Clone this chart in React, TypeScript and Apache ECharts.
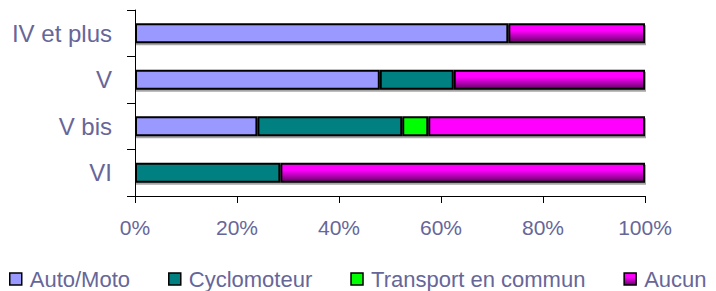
import React, { useEffect, useRef } from "react";
import * as echarts from "echarts";

const categories = ["IV et plus", "V", "V bis", "VI"];
const seriesNames = ["Auto/Moto", "Cyclomoteur", "Transport en commun", "Aucun"];
const autoMoto = [73.2, 48.0, 24.0, 0];
const cyclomoteur = [0, 14.5, 28.4, 28.5];
const transport = [0, 0, 5.1, 0];
const aucun = [26.8, 37.5, 42.5, 71.5];
const xTicks = [0, 20, 40, 60, 80, 100];

const TEXT = "#666699";
const FONT = "Liberation Sans, Arial, sans-serif";

const aucunGradient = new echarts.graphic.LinearGradient(0, 0, 0, 1, [
  { offset: 0, color: "#FF00FF" },
  { offset: 0.35, color: "#FF00FF" },
  { offset: 1, color: "#660066" },
]);

export default function App() {
  const ref = useRef<HTMLDivElement>(null);
  useEffect(() => {
    document.body.style.margin = "0";
    if (!ref.current) return;
    const chart = echarts.init(ref.current, undefined, { renderer: "svg" });
    const base = {
      type: "bar",
      stack: "total",
      barWidth: 20,
      emphasis: { disabled: true },
    };
    const itemBase = {
      borderColor: "#000",
      borderWidth: 2,
      shadowColor: "rgba(0,0,0,0.35)",
      shadowOffsetX: 1,
      shadowOffsetY: 2,
      shadowBlur: 0,
    };
    chart.setOption({
      animation: false,
      grid: { left: 135, right: 71, top: 10, bottom: 95 },
      xAxis: {
        type: "value",
        min: 0,
        max: 100,
        interval: 20,
        axisLine: { show: true, lineStyle: { color: "#000", width: 1 } },
        axisTick: { show: true, length: 7, lineStyle: { color: "#000" } },
        splitLine: { show: false },
        axisLabel: {
          color: TEXT,
          fontFamily: FONT,
          fontSize: 21,
          margin: 21,
          formatter: (v: number) => (xTicks.includes(v) ? v + "%" : ""),
        },
      },
      yAxis: {
        type: "category",
        data: categories,
        inverse: true,
        axisLine: { show: true, lineStyle: { color: "#000", width: 1 } },
        axisTick: { show: true, length: 8, alignWithLabel: false, lineStyle: { color: "#000" } },
        axisLabel: { color: TEXT, fontFamily: FONT, fontSize: 24, margin: 23 },
      },
      legend: {
        left: 9,
        top: 268,
        padding: 0,
        icon: "rect",
        itemWidth: 12,
        itemHeight: 12,
        itemGap: 38,
        textStyle: {
          color: TEXT,
          fontFamily: FONT,
          fontSize: 22,
          lineHeight: 22,
          padding: [0, 0, 0, 3],
        },
        data: seriesNames,
        itemStyle: { borderColor: "#000", borderWidth: 1.5 },
      },
      series: [
        { ...base, name: seriesNames[0], data: autoMoto, itemStyle: { ...itemBase, color: "#9999FF" } },
        { ...base, name: seriesNames[1], data: cyclomoteur, itemStyle: { ...itemBase, color: "#008080" } },
        { ...base, name: seriesNames[2], data: transport, itemStyle: { ...itemBase, color: "#00FF00" } },
        {
          ...base,
          name: seriesNames[3],
          data: aucun.map((v, i) =>
            categories[i] === "V bis" ? { value: v, itemStyle: { color: "#FF00FF" } } : v
          ),
          itemStyle: { ...itemBase, color: aucunGradient },
        },
      ],
    });
    return () => chart.dispose();
  }, []);
  return <div ref={ref} style={{ width: 716, height: 291 }} />;
}
